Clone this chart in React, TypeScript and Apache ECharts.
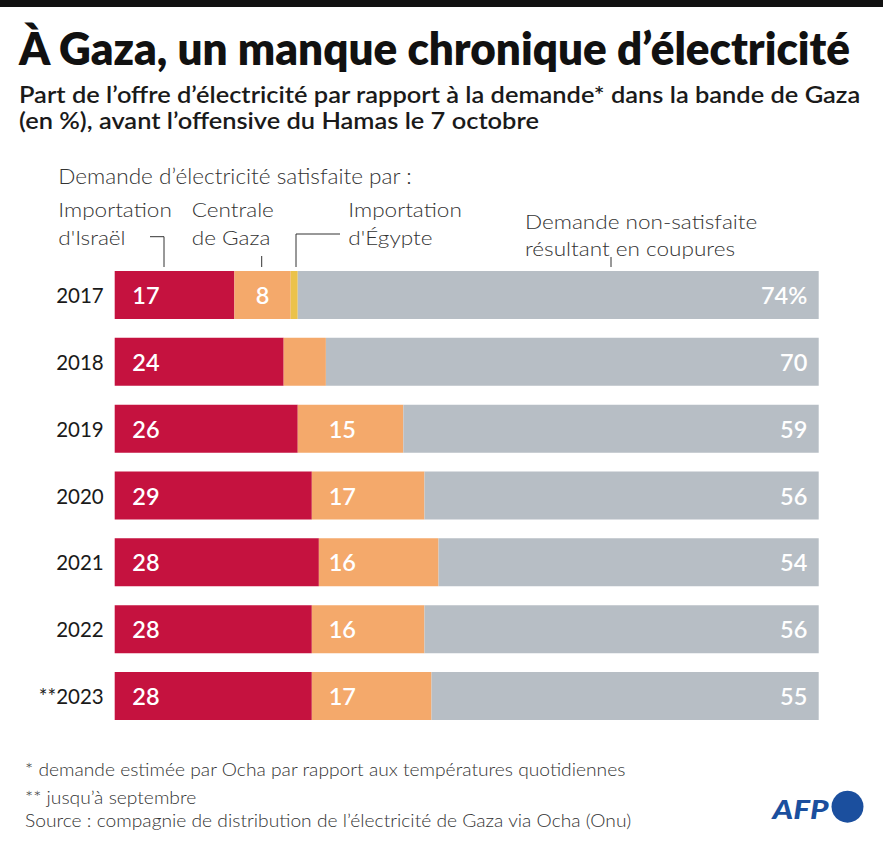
import React, { useEffect, useRef } from "react";
import * as echarts from "echarts";

// ---- data ----
const years = ["2017", "2018", "2019", "2020", "2021", "2022", "**2023"];
// segment widths as drawn in the bars (% of demand)
const israel = [17, 24, 26, 28, 29, 28, 28];
const gaza = [8, 6, 15, 16, 17, 16, 17];
const egypt = [1, 0, 0, 0, 0, 0, 0];
const unmet = [74, 70, 59, 56, 54, 56, 55];
// numbers printed on the bars
const israelPrinted = ["17", "24", "26", "29", "28", "28", "28"];
const gazaPrinted = ["8", "", "15", "17", "16", "16", "17"];
const unmetPrinted = ["74%", "70", "59", "56", "54", "56", "55"];

// ---- style ----
const RED = "#C5123F";
const ORANGE = "#F4A96B";
const YELLOW = "#EBC24A";
const GREY = "#B7BEC5";
const TEXT = "#333333";
const FONT = "Lato";
const GAZA_LABEL_COLUMN = 30.4; // axis value where orange labels line up

let ctx: CanvasRenderingContext2D | null = null;
function measure(text: string, font: string) {
  if (!ctx) ctx = document.createElement("canvas").getContext("2d");
  ctx!.font = font;
  return ctx!.measureText(text).width;
}
function fontStr(size: number, weight: number | string, style = "normal") {
  return `${style} ${weight} ${size}px ${FONT}`;
}
function scaleFor(text: string, font: string, target: number) {
  return target / measure(text, font);
}
function txt(text: string, x: number, y: number, font: string, fill: string, sx = 1) {
  return {
    type: "text",
    x,
    y,
    scaleX: sx,
    silent: true,
    style: { text, x: 0, y: 0, font, fill, textAlign: "left", textVerticalAlign: "middle" },
  };
}

export default function App() {
  const ref = useRef<HTMLDivElement>(null);
  useEffect(() => {
    document.body.style.margin = "0";
    const chart = echarts.init(ref.current!, null, { renderer: "svg" });

    const titleFont = fontStr(45, 800);
    const title = "À Gaza, un manque chronique d’électricité";
    const subFont = fontStr(23.5, 600);
    const sub1 = "Part de l’offre d’électricité par rapport à la demande* dans la bande de Gaza";
    const sub2 = "(en %), avant l’offensive du Hamas le 7 octobre";
    const subScale = scaleFor(sub1, subFont, 842);
    const headFont = fontStr(22, 300);
    const head = "Demande d’électricité satisfaite par :";
    const legFont = fontStr(19.5, 300);
    const legScale = scaleFor("Importation", legFont, 113.5);
    const footFont = fontStr(18.5, 300);
    const src = "Source : compagnie de distribution de l’électricité de Gaza via Ocha (Onu)";
    const footScale = scaleFor(src, footFont, 607);
    const afpFont = fontStr(26, 900, "italic");

    const lineStyle = { stroke: TEXT, lineWidth: 1 };

    const graphic: any[] = [
      { type: "rect", shape: { x: 0, y: 0, width: 883, height: 7 }, style: { fill: "#111" } },
      txt(title, 19, 47.5, titleFont, "#111", scaleFor(title, titleFont, 833)),
      txt(sub1, 19, 93.5, subFont, "#1a1a1a", subScale),
      txt(sub2, 19, 119.5, subFont, "#1a1a1a", subScale),
      txt(head, 58.3, 176, headFont, TEXT, scaleFor(head, headFont, 354)),
      txt("Importation", 58.3, 209.4, legFont, TEXT, legScale),
      txt("d'Israël", 58.3, 236.7, legFont, TEXT, legScale),
      txt("Centrale", 191.7, 209.4, legFont, TEXT, legScale),
      txt("de Gaza", 191.7, 236.7, legFont, TEXT, legScale),
      txt("Importation", 348.3, 209.4, legFont, TEXT, legScale),
      txt("d'Égypte", 348.3, 236.7, legFont, TEXT, legScale),
      txt("Demande non-satisfaite", 525, 221, legFont, TEXT, legScale),
      txt("résultant en coupures", 525, 248, legFont, TEXT, legScale),
      { type: "polyline", shape: { points: [[150, 236.7], [164, 236.7], [164, 267]] }, style: { ...lineStyle, fill: null } },
      { type: "line", shape: { x1: 261.7, y1: 256, x2: 261.7, y2: 267 }, style: lineStyle },
      { type: "polyline", shape: { points: [[340, 234], [296, 234], [296, 267]] }, style: { ...lineStyle, fill: null } },
      { type: "line", shape: { x1: 611, y1: 257, x2: 611, y2: 267 }, style: lineStyle },
      txt("* demande estimée par Ocha par rapport aux températures quotidiennes", 25, 769, footFont, TEXT, footScale),
      txt("** jusqu’à septembre", 25, 797, footFont, TEXT, footScale),
      txt(src, 25, 819.5, footFont, TEXT, footScale),
      txt("AFP", 772.5, 808.8, afpFont, "#1B4F9E", scaleFor("AFP", afpFont, 56)),
      { type: "circle", shape: { cx: 847.5, cy: 806.7, r: 16 }, style: { fill: "#1B4F9E" } },
    ];

    const labelBase = { color: "#fff", fontFamily: FONT, fontWeight: 600, fontSize: 23.5 };

    const option: any = {
      animation: false,
      grid: { left: 114.7, right: 64.3, top: 261.6, bottom: 125.6 },
      xAxis: { type: "value", min: 0, max: 100, show: false },
      yAxis: {
        type: "category",
        data: years,
        inverse: true,
        axisLine: { show: false },
        axisTick: { show: false },
        axisLabel: { margin: 11, fontSize: 20.5, color: "#1a1a1a", fontFamily: FONT, fontWeight: 400 },
      },
      series: [
        {
          name: "Importation d'Israël",
          type: "bar",
          stack: "total",
          barWidth: 48,
          data: israel,
          itemStyle: { color: RED },
          label: { show: true, position: "insideLeft", distance: 17.6, ...labelBase, formatter: (p: any) => israelPrinted[p.dataIndex] },
        },
        {
          name: "Centrale de Gaza",
          type: "bar",
          stack: "total",
          barWidth: 48,
          data: gaza,
          itemStyle: { color: ORANGE },
          label: { show: true, position: "inside", ...labelBase, formatter: (p: any) => gazaPrinted[p.dataIndex] },
        },
        {
          name: "Importation d'Égypte",
          type: "bar",
          stack: "total",
          barWidth: 48,
          data: egypt,
          itemStyle: { color: YELLOW },
        },
        {
          name: "Demande non-satisfaite",
          type: "bar",
          stack: "total",
          barWidth: 48,
          data: unmet,
          itemStyle: { color: GREY },
          label: { show: true, position: "insideRight", distance: 11.4, ...labelBase, formatter: (p: any) => unmetPrinted[p.dataIndex] },
        },
      ],
      graphic,
    };
    chart.setOption(option);

    const colPx = chart.convertToPixel({ xAxisIndex: 0 }, GAZA_LABEL_COLUMN) as number;
    const gazaData = gaza.map((v, i) => {
      const startPx = chart.convertToPixel({ xAxisIndex: 0 }, israel[i]) as number;
      const fits = israel[i] + v > GAZA_LABEL_COLUMN + 4;
      return {
        value: v,
        label: fits
          ? { position: [colPx - startPx, "50%"], align: "left", verticalAlign: "middle" }
          : { position: "inside" },
      };
    });
    chart.setOption({ series: [{}, { data: gazaData }] });

    return () => chart.dispose();
  }, []);
  return <div ref={ref} style={{ width: 883, height: 855 }} />;
}
